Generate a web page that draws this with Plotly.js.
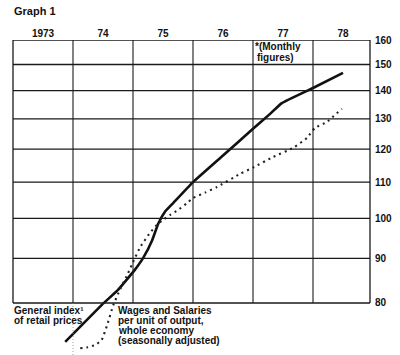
<!DOCTYPE html>
<html>
<head>
<meta charset="utf-8">
<script src="https://cdn.plot.ly/plotly-3.0.1.min.js"></script>
<style>
  html, body { margin: 0; padding: 0; background: #ffffff; }
  #chart { width: 400px; height: 355px; }
</style>
</head>
<body>
<div id="chart"></div>
<script>
// ---- Data (time in years, index values) ----
const retailT = [1973.87, 1974.15, 1974.48, 1974.75, 1975.03, 1975.17, 1975.32, 1975.42, 1975.53, 1975.67, 1976.00, 1976.50, 1977.00, 1977.28, 1977.48, 1978.00, 1978.50];
const retailV = [72.2, 75.5, 79.6, 82.8, 87.3, 90.1, 94.4, 98.6, 101.7, 104.1, 110.0, 118.0, 126.6, 131.6, 135.5, 141.0, 146.7];

const wagesT = [1974.12, 1974.25, 1974.37, 1974.48, 1974.57, 1974.67, 1974.78, 1974.92, 1975.00, 1975.12, 1975.28, 1975.40, 1975.50, 1975.62, 1975.75, 1975.90, 1976.00, 1976.20, 1976.40, 1976.78, 1977.00, 1977.33, 1977.67, 1977.90, 1978.03, 1978.23, 1978.48];
const wagesV = [71.0, 71.2, 71.6, 72.6, 75.5, 79.5, 82.8, 86.6, 89.1, 92.7, 96.2, 98.3, 99.6, 100.9, 102.2, 104.1, 105.5, 107.0, 108.6, 112.4, 114.3, 117.5, 120.4, 123.6, 126.9, 128.9, 133.5];

const yearTickVals = [1973.5, 1974.5, 1975.5, 1976.5, 1977.5, 1978.5];
const yearTickText = ['1973', '74', '75', '76', '77', '78'];
const yearLines = [1974, 1975, 1976, 1977, 1978];
const valueTicks = [80, 90, 100, 110, 120, 130, 140, 150, 160];

const FONT = 'Liberation Sans, Arial, Helvetica, sans-serif';
const W = 400, H = 355;
const M = {l: 13, r: 30, t: 40, b: 0};
const PW = W - M.l - M.r, PH = H - M.t - M.b;
const px = x => (x - M.l) / PW;
const py = y => (H - M.b - y) / PH;

const xMin = 1973, xMax = 1973 + PW / 60;
const yMin = 69.75, yMax = 160;
const L = Math.log10;

const shapes = [];
// horizontal rules
valueTicks.forEach(v => {
  shapes.push({type: 'line', xref: 'paper', yref: 'y', x0: 0, x1: 1, y0: v, y1: v,
    line: {color: '#1a1a1a', width: 1.3}});
});
// vertical year boundaries
yearLines.forEach(t => {
  shapes.push({type: 'line', xref: 'x', yref: 'y', x0: t, x1: t, y0: 80, y1: 160,
    line: {color: '#1a1a1a', width: 1.1}});
});
// frame sides
shapes.push({type: 'line', xref: 'paper', yref: 'y', x0: 0, x1: 0, y0: 80, y1: 160, line: {color: '#1a1a1a', width: 1.3}});
shapes.push({type: 'line', xref: 'paper', yref: 'y', x0: 1, x1: 1, y0: 80, y1: 160, line: {color: '#1a1a1a', width: 1.3}});
// faint continuation below the base
shapes.push({type: 'line', xref: 'x', yref: 'y', x0: 1974, x1: 1974, y0: yMin, y1: 80, line: {color: '#888', width: 0.8, dash: '1px,2px'}});

const txt = (text, x, y) => ({
  text: text, xref: 'paper', yref: 'paper', x: px(x), y: py(y),
  xanchor: 'left', yanchor: 'middle', showarrow: false,
  font: {family: FONT, size: 10, color: '#111', weight: 'bold'}
});

const annotations = [
  Object.assign(txt('Graph 1', 12, 11), {font: {family: FONT, size: 11, color: '#111', weight: 'bold'}}),
  txt('*(Monthly', 253, 46),
  txt('figures)', 255, 57),
  txt('General index\u00b9', 12, 310),
  txt('of retail prices', 12, 320),
  txt('Wages and Salaries', 116, 310),
  txt('per unit of output,', 116, 320),
  txt('whole economy', 116, 330),
  txt('(seasonally adjusted)', 116, 340)
];

const data = [
  {x: retailT, y: retailV, type: 'scatter', mode: 'lines', name: 'General index of retail prices',
   line: {color: '#111', width: 2.6, shape: 'spline', smoothing: 0.3}, hoverinfo: 'skip'},
  {x: wagesT, y: wagesV, type: 'scatter', mode: 'lines', name: 'Wages and Salaries per unit of output',
   line: {color: '#222', width: 2.1, dash: '2px,4px', shape: 'spline', smoothing: 0.3}, hoverinfo: 'skip'}
];

const layout = {
  width: W, height: H,
  margin: M,
  paper_bgcolor: '#ffffff', plot_bgcolor: '#ffffff',
  showlegend: false,
  font: {family: FONT, color: '#111'},
  xaxis: {
    range: [xMin, xMax], side: 'top', showgrid: false, zeroline: false, showline: false,
    tickvals: yearTickVals, ticktext: yearTickText, ticks: '',
    tickfont: {family: FONT, size: 10, color: '#111', weight: 'bold'},
    automargin: false, fixedrange: true
  },
  yaxis: {
    type: 'log', range: [L(yMin), L(yMax)], side: 'right', showgrid: false, zeroline: false, showline: false,
    tickvals: valueTicks, ticktext: valueTicks.map(String), ticks: '',
    ticklabelstandoff: 4,
    tickfont: {family: FONT, size: 10, color: '#111', weight: 'bold'},
    automargin: false, fixedrange: true
  },
  shapes: shapes,
  annotations: annotations
};

Plotly.newPlot('chart', data, layout, {displayModeBar: false, staticPlot: true});
</script>
</body>
</html>
